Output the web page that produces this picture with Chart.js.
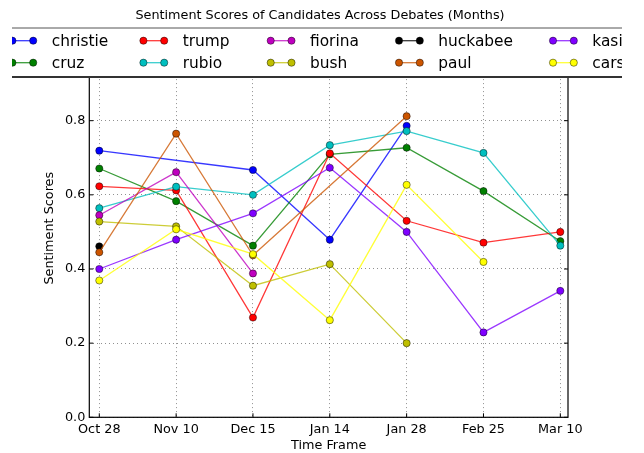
<!DOCTYPE html>
<html><head><meta charset="utf-8">
<script src="https://cdn.jsdelivr.net/npm/chart.js@4.4.1/dist/chart.umd.min.js"></script>
<style>html,body{margin:0;padding:0;background:#fff}</style>
</head><body>
<canvas id="c" width="644" height="453" style="display:block;width:644px;height:453px"></canvas>
<script>
// ---- data ----
const timeLabels = ['Oct 28','Nov 10','Dec 15','Jan 14','Jan 28','Feb 25','Mar 10'];
const yTicks = [0.0, 0.2, 0.4, 0.6, 0.8, 1.0];
const candidates = ['christie','cruz','trump','rubio','fiorina','bush','huckabee','paul','kasich','carson'];
const christie = [0.719, null, 0.667, 0.479, 0.786, null, null];
const cruz     = [0.671, 0.583, 0.463, 0.709, 0.727, 0.610, 0.475];
const trump    = [0.623, 0.612, 0.269, 0.712, 0.530, 0.471, 0.500];
const rubio    = [0.564, 0.622, 0.600, 0.734, 0.772, 0.713, 0.463];
const fiorina  = [0.545, 0.661, 0.388, null, null, null, null];
const bush     = [0.528, 0.515, 0.355, 0.413, 0.200, null, null];
const huckabee = [0.461, null, null, null, null, null, null];
const paul     = [0.445, 0.765, 0.437, null, 0.812, null, null];
const kasich   = [0.400, 0.479, 0.550, 0.673, 0.500, 0.229, 0.341];
const carson   = [0.369, 0.507, 0.440, 0.262, 0.627, 0.419, null];
const seriesValues = [christie, cruz, trump, rubio, fiorina, bush, huckabee, paul, kasich, carson];
const colors = ['#0000ff','#008000','#ff0000','#00bfbf','#bf00bf','#bfbf00','#000000','#cc5500','#7f00ff','#ffff00'];

const FONT = "'DejaVu Sans', sans-serif";
function rgba(hex, a){const n=parseInt(hex.slice(1),16);return `rgba(${n>>16&255},${n>>8&255},${n&255},${a})`;}

const datasets = candidates.map((name, i) => ({
  label: name,
  data: seriesValues[i].map((v, k) => ({x: k, y: v})).filter(p => p.y !== null),
  borderColor: rgba(colors[i], 0.78),
  backgroundColor: colors[i],
  pointBackgroundColor: colors[i],
  pointBorderColor: 'rgba(0,0,0,0.75)',
  pointBorderWidth: 0.6,
  pointRadius: 3.6,
  borderWidth: 1.3,
  tension: 0,
  order: candidates.length - i
}));

const mplPlugin = {
  id: 'mpl',
  afterDatasetsDraw(chart) {
    const {ctx, chartArea: a, scales: {x, y}} = chart;
    ctx.save();
    ctx.strokeStyle = '#000';
    ctx.lineWidth = 1;
    ctx.beginPath();
    x.ticks.forEach(t => { const px = x.getPixelForValue(t.value);
      ctx.moveTo(px, a.bottom); ctx.lineTo(px, a.bottom - 4);
      ctx.moveTo(px, a.top); ctx.lineTo(px, a.top + 4); });
    y.ticks.forEach(t => { const py = y.getPixelForValue(t.value);
      ctx.moveTo(a.left, py); ctx.lineTo(a.left + 4, py);
      ctx.moveTo(a.right, py); ctx.lineTo(a.right - 4, py); });
    ctx.stroke();
    ctx.lineWidth = 1.2;
    ctx.strokeRect(a.left, a.top, a.right - a.left, a.bottom - a.top);
    ctx.restore();
  },
  afterDraw(chart) {
    const ctx = chart.ctx;
    ctx.save();
    // title
    ctx.fillStyle = '#000';
    ctx.font = `12.8px ${FONT}`;
    ctx.textAlign = 'center';
    ctx.textBaseline = 'middle';
    ctx.fillText('Sentiment Scores of Candidates Across Debates (Months)', 320, 15.5);
    // legend (clipped as in the reference)
    ctx.beginPath(); ctx.rect(12, 0, 610, 453); ctx.clip();
    ctx.fillStyle = '#fff';
    ctx.fillRect(0, 27.7, 644, 49.6);
    ctx.strokeStyle = '#555'; ctx.lineWidth = 1;
    ctx.beginPath(); ctx.moveTo(0, 28); ctx.lineTo(644, 28); ctx.stroke();
    ctx.strokeStyle = '#333'; ctx.lineWidth = 2;
    ctx.beginPath(); ctx.moveTo(0, 77); ctx.lineTo(644, 77); ctx.stroke();
    const colX = [51.7, 182.7, 310, 438.3, 592.3];
    const rowY = [40.7, 62.7];
    ctx.font = `15.4px ${FONT}`;
    ctx.textAlign = 'left';
    chart.data.datasets.forEach((ds, i) => {
      const c = Math.floor(i / 2), r = i % 2;
      const tx = colX[c], ty = rowY[r];
      const x1 = tx - 39.3, x2 = tx - 18.5;
      ctx.strokeStyle = ds.borderColor; ctx.lineWidth = ds.borderWidth;
      ctx.beginPath(); ctx.moveTo(x1, ty); ctx.lineTo(x2, ty); ctx.stroke();
      [x1, x2].forEach(mx => {
        ctx.beginPath(); ctx.arc(mx, ty, ds.pointRadius, 0, Math.PI * 2);
        ctx.fillStyle = ds.pointBackgroundColor; ctx.fill();
        ctx.strokeStyle = ds.pointBorderColor; ctx.lineWidth = ds.pointBorderWidth; ctx.stroke();
      });
      ctx.fillStyle = '#000';
      ctx.fillText(ds.label, tx, ty + 1);
    });
    ctx.restore();
  }
};

new Chart(document.getElementById('c'), {
  type: 'line',
  data: { datasets },
  options: {
    responsive: false,
    devicePixelRatio: 1,
    animation: false,
    layout: { padding: { top: 39.1, right: 76, left: 0, bottom: 0 } },
    plugins: { legend: { display: false }, title: { display: false }, tooltip: { enabled: false } },
    scales: {
      x: {
        type: 'linear', min: -0.13, max: 6.1,
        afterBuildTicks: s => { s.ticks = timeLabels.map((_, i) => ({ value: i })); },
        afterFit: s => { s.height = 35.7; },
        ticks: { callback: v => timeLabels[v], autoSkip: false, maxRotation: 0, padding: 5,
                 color: '#000', font: { family: FONT, size: 12.8 } },
        grid: { color: 'rgba(0,0,0,0.55)', lineWidth: 0.8, drawTicks: false },
        border: { display: false, dash: [1, 3] },
        title: { display: true, text: 'Time Frame', color: '#000', padding: { top: -1.5, bottom: 0 },
                 font: { family: FONT, size: 12.8, lineHeight: 1.2 } }
      },
      y: {
        min: 0, max: 1.02,
        afterBuildTicks: s => { s.ticks = yTicks.map(v => ({ value: v })); },
        afterFit: s => { s.width = 89.3; },
        ticks: { callback: v => v.toFixed(1), padding: 4, color: '#000',
                 font: { family: FONT, size: 12.8 } },
        grid: { color: 'rgba(0,0,0,0.55)', lineWidth: 0.8, drawTicks: false },
        border: { display: false, dash: [1, 3] },
        title: { display: true, text: 'Sentiment Scores', color: '#000', padding: { top: 42.3, bottom: 0 },
                 font: { family: FONT, size: 12.8, lineHeight: 1.2 } }
      }
    }
  },
  plugins: [mplPlugin]
});
</script>
</body></html>
